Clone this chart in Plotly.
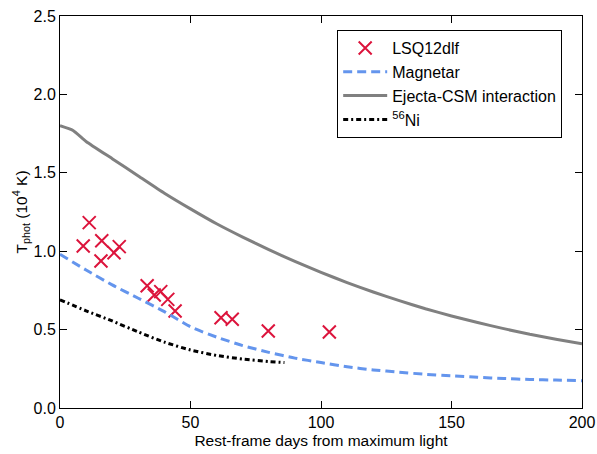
import plotly.graph_objects as go

# Observed data: LSQ12dlf
obs_days = [8.9, 11.2, 16.0, 15.7, 20.7, 22.7, 33.4, 36.1, 38.6, 41.3, 44.1, 61.7, 66.0, 79.8, 103.2]
obs_temp = [1.033, 1.182, 1.067, 0.938, 0.990, 1.029, 0.780, 0.721, 0.742, 0.693, 0.619, 0.576, 0.566, 0.491, 0.485]

# Magnetar model
mag_days = [0, 10, 20, 30, 40, 50, 60, 70, 80, 90, 100, 110, 120, 130, 140, 150, 160, 170, 180, 190, 200]
mag_temp = [0.98, 0.88, 0.785, 0.70, 0.615, 0.518, 0.452, 0.398, 0.355, 0.318, 0.29, 0.263, 0.243,
            0.228, 0.215, 0.205, 0.196, 0.188, 0.182, 0.178, 0.174]

# Ejecta-CSM interaction model
csm_days = [0, 5, 10, 20, 30, 40, 50, 60, 70, 80, 90, 100, 110, 120, 130, 140, 150, 160, 170, 180, 190, 200]
csm_temp = [1.80, 1.77, 1.70, 1.59, 1.48, 1.37, 1.27, 1.175, 1.09, 1.01, 0.935, 0.865, 0.80, 0.74,
            0.685, 0.633, 0.587, 0.545, 0.506, 0.47, 0.439, 0.41]

# 56Ni model
ni_days = [0, 10, 20, 30, 40, 50, 60, 70, 80, 86]
ni_temp = [0.69, 0.62, 0.555, 0.485, 0.42, 0.37, 0.335, 0.312, 0.296, 0.29]

x_ticks = [0, 50, 100, 150, 200]
y_ticks = [0.0, 0.5, 1.0, 1.5, 2.0, 2.5]

FONT = "Liberation Sans, Arial, Helvetica, sans-serif"

fig = go.Figure()
fig.add_trace(go.Scatter(
    x=obs_days, y=obs_temp, mode="markers", name="LSQ12dlf",
    marker=dict(symbol="x-thin", size=13, color="#DC143C",
                line=dict(color="#DC143C", width=2)),
))
fig.add_trace(go.Scatter(
    x=mag_days, y=mag_temp, mode="lines", name="Magnetar",
    line=dict(color="#6495ED", width=3, dash="9px,5px", shape="spline", smoothing=0.6),
))
fig.add_trace(go.Scatter(
    x=csm_days, y=csm_temp, mode="lines", name="Ejecta-CSM interaction",
    line=dict(color="#808080", width=3, shape="spline", smoothing=0.5),
))
fig.add_trace(go.Scatter(
    x=ni_days, y=ni_temp, mode="lines", name="<sup>56</sup>Ni",
    line=dict(color="black", width=3, dash="5px,3px,2px,3px", shape="spline", smoothing=0.6),
))

axis_common = dict(
    showline=True, linecolor="black", linewidth=1, mirror="ticks",
    ticks="inside", ticklen=7, tickcolor="black", tickwidth=1,
    showgrid=False, zeroline=False, automargin=False,
    ticklabeloverflow="allow",
    tickfont=dict(family=FONT, size=16, color="black"),
)

fig.update_layout(
    width=597, height=454,
    margin=dict(l=60, r=15, t=16, b=46, autoexpand=False),
    paper_bgcolor="white", plot_bgcolor="white",
    font=dict(family=FONT, size=16, color="black"),
    showlegend=True,
    legend=dict(
        x=0.531, y=0.964, xanchor="left", yanchor="top",
        bordercolor="black", borderwidth=1, bgcolor="white",
        font=dict(family=FONT, size=16, color="black"),
        tracegroupgap=0, itemwidth=44,
    ),
    xaxis=dict(
        range=[0, 200], tickvals=x_ticks, ticktext=[str(v) for v in x_ticks],
        title=dict(text="Rest-frame days from maximum light", standoff=4,
                   font=dict(family=FONT, size=15.5, color="black")),
        **axis_common,
    ),
    yaxis=dict(
        range=[0, 2.5], tickvals=y_ticks, ticktext=[f"{v:.1f}" for v in y_ticks],
        title=dict(text="T<sub>phot</sub> (10<sup>4</sup> K)", standoff=2,
                   font=dict(family=FONT, size=15.5, color="black")),
        **axis_common,
    ),
)

# remove the default page margin so the figure fills the window exactly
fig.write_html(
    "out.html",
    config={"displayModeBar": False},
    post_script="document.body.style.margin='0';document.body.style.overflow='hidden';",
)
